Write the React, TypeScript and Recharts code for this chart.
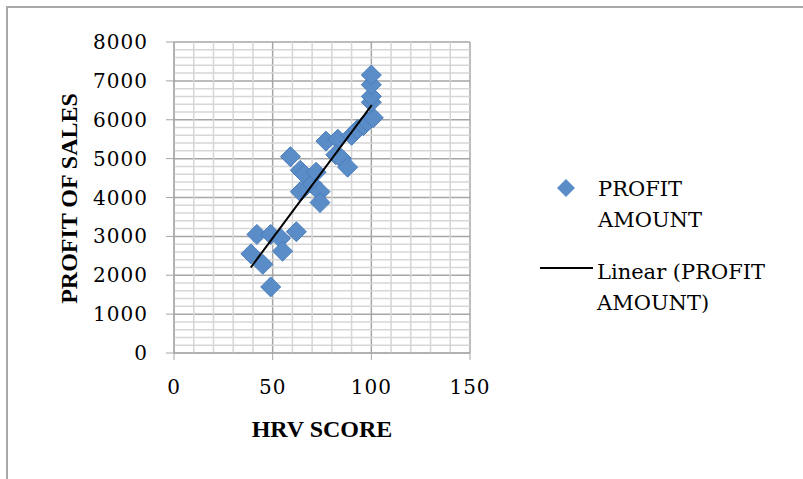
import { ScatterChart, Scatter, XAxis, YAxis, CartesianGrid, Legend, ReferenceLine } from 'recharts';

// HRV score vs profit
const hrvScore = [39, 42, 45, 49, 49, 54, 55, 62, 59, 64, 66, 64, 70, 72, 74, 74, 77, 83, 82, 85, 88, 90, 93, 96, 98, 101, 100, 100, 100, 100];
const profitAmount = [2550, 3050, 2280, 1700, 3050, 2950, 2620, 3120, 5050, 4700, 4600, 4150, 4350, 4650, 4150, 3870, 5450, 5500, 5100, 5000, 4780, 5600, 5750, 5850, 5950, 6050, 6450, 6600, 6900, 7150];

// endpoints of the Excel linear trendline
const trendX = [38.9, 100.2];
const trendY = [2200, 6375];

const xTicks = [0, 50, 100, 150];
const yTicks = [0, 1000, 2000, 3000, 4000, 5000, 6000, 7000, 8000];

const minorX: number[] = [];
for (let v = 10; v < 150; v += 10) if (v % 50 !== 0) minorX.push(v);
const minorY: number[] = [];
for (let v = 200; v < 8000; v += 200) if (v % 1000 !== 0) minorY.push(v);

const points = hrvScore.map((x, i) => ({ x, y: profitAmount[i] }));
const trend = trendX.map((x, i) => ({ x, y: trendY[i] }));

const BLUE = '#5a8dc8';
const SERIF = '"DejaVu Serif", serif';
const TITLE = '"Liberation Serif", serif';
const MINOR = '#d6d6d6';
const MAJOR = '#a6a6a6';

const Diamond = (props: any) => {
  const { cx, cy } = props;
  const r = 10;
  return (
    <polygon
      points={`${cx},${cy - r} ${cx + r},${cy} ${cx},${cy + r} ${cx - r},${cy}`}
      fill={BLUE}
      stroke="#4a7dba"
      strokeWidth={1}
    />
  );
};

const renderLegend = () => (
  <svg width={270} height={170}>
    <polygon points="36,19 45,28 36,37 27,28" fill={BLUE} />
    <text x={68} y={36} fontFamily={SERIF} fontSize={21} fill="#000">PROFIT</text>
    <text x={68} y={67} fontFamily={SERIF} fontSize={21} fill="#000">AMOUNT</text>
    <line x1={10} y1={108} x2={63} y2={108} stroke="#000" strokeWidth={2} />
    <text x={67} y={119} fontFamily={SERIF} fontSize={21} fill="#000">Linear (PROFIT</text>
    <text x={67} y={150} fontFamily={SERIF} fontSize={21} fill="#000">AMOUNT)</text>
  </svg>
);

const yTitle = (props: any) => {
  const { viewBox } = props;
  const cy = viewBox.y + viewBox.height / 2 + 1;
  return (
    <text
      x={77}
      y={cy}
      transform={`rotate(-90, 77, ${cy})`}
      textAnchor="middle"
      fontFamily={TITLE}
      fontWeight="bold"
      fontSize={24}
      fill="#000"
    >
      PROFIT OF SALES
    </text>
  );
};

const xTitle = (props: any) => {
  const { viewBox } = props;
  const cx = viewBox.x + viewBox.width / 2;
  return (
    <text x={cx} y={437} textAnchor="middle" fontFamily={TITLE} fontWeight="bold" fontSize={24} fill="#000">
      HRV SCORE
    </text>
  );
};

export default function App() {
  return (
    <div style={{ position: 'absolute', left: 0, top: 0, width: 803, height: 479, overflow: 'hidden', background: '#fff' }}>
      <div style={{ position: 'absolute', left: 6, top: 6, width: 900, height: 600, borderLeft: '2px solid #a8a8a8', borderTop: '2px solid #a8a8a8' }} />
      <div style={{ position: 'absolute', left: 0, top: 0 }}>
        <ScatterChart width={803} height={479} margin={{ top: 42, right: 333, bottom: 59, left: 0 }}>
          {minorX.map(v => (
            <ReferenceLine key={`mx${v}`} x={v} stroke={MINOR} strokeWidth={1.5} />
          ))}
          {minorY.map(v => (
            <ReferenceLine key={`my${v}`} y={v} stroke={MINOR} strokeWidth={1.5} />
          ))}
          <CartesianGrid stroke={MAJOR} strokeWidth={1.5} verticalValues={xTicks} horizontalValues={yTicks} />
          <XAxis
            type="number"
            dataKey="x"
            domain={[0, 150]}
            ticks={xTicks}
            height={67}
            tickSize={7}
            tickMargin={20}
            stroke={MAJOR}
            tick={{ fontFamily: SERIF, fontSize: 20, fill: '#000', letterSpacing: 1 }}
            label={{ content: xTitle }}
          />
          <YAxis
            type="number"
            dataKey="y"
            domain={[0, 8000]}
            ticks={yTicks}
            width={174}
            tickSize={8}
            tickMargin={18}
            stroke={MAJOR}
            tick={{ fontFamily: SERIF, fontSize: 20, fill: '#000', letterSpacing: 1 }}
            label={{ content: yTitle }}
          />
          <Legend
            layout="vertical"
            align="center"
            verticalAlign="middle"
            content={renderLegend}
            wrapperStyle={{ left: 530, top: 160, width: 270, height: 170 }}
          />
          <Scatter name="PROFIT AMOUNT" data={points} shape={Diamond} isAnimationActive={false} />
          <Scatter
            name="Linear (PROFIT AMOUNT)"
            data={trend}
            line={{ stroke: '#000', strokeWidth: 2 }}
            shape={() => <g />}
            isAnimationActive={false}
          />
        </ScatterChart>
      </div>
    </div>
  );
}
